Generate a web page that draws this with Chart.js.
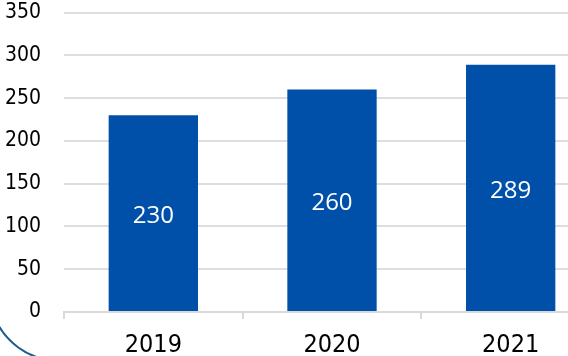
<!DOCTYPE html>
<html>
<head>
<meta charset="utf-8">
<script src="https://cdn.jsdelivr.net/npm/chart.js@4/dist/chart.umd.min.js"></script>
<style>
  html, body { margin: 0; padding: 0; background: #fff; overflow: hidden; width: 568px; height: 356px; }
  #wrap { position: absolute; left: 0; top: 0; width: 600px; height: 356px; }
</style>
</head>
<body>
<div id="wrap"><canvas id="c"></canvas></div>
<script>
const categories = ['2019', '2020', '2021'];
const values = [230, 260, 289];
const yTicks = [0, 50, 100, 150, 200, 250, 300, 350];

const axisFont = "'DejaVu Sans Condensed', 'DejaVu Sans', sans-serif";

const valueLabels = {
  id: 'valueLabels',
  afterDatasetsDraw(chart) {
    const ctx = chart.ctx;
    const meta = chart.getDatasetMeta(0);
    ctx.save();
    ctx.fillStyle = '#ffffff';
    ctx.font = "24px 'Open Sans', 'Noto Sans', sans-serif";
    ctx.textAlign = 'center';
    ctx.textBaseline = 'middle';
    meta.data.forEach((bar, i) => {
      const p = bar.getProps(['x', 'y', 'base'], true);
      ctx.fillText(String(values[i]), p.x, (p.y + p.base) / 2 + 3);
    });
    ctx.restore();
  }
};

const decoArc = {
  id: 'decoArc',
  beforeDraw(chart) {
    const ctx = chart.ctx;
    ctx.save();
    ctx.strokeStyle = '#1b5c92';
    ctx.lineWidth = 2;
    ctx.beginPath();
    ctx.arc(60, 290, 71, 100 * Math.PI / 180, 152 * Math.PI / 180);
    ctx.stroke();
    ctx.restore();
  }
};

new Chart(document.getElementById('c'), {
  type: 'bar',
  data: {
    labels: categories,
    datasets: [{
      data: values,
      backgroundColor: '#0050AA',
      borderWidth: 0,
      barPercentage: 0.5,
      categoryPercentage: 1.0
    }]
  },
  options: {
    responsive: true,
    maintainAspectRatio: false,
    animation: false,
    layout: { padding: { top: 0, right: 0, left: 0, bottom: 0 } },
    plugins: { legend: { display: false }, tooltip: { enabled: false } },
    scales: {
      x: {
        grid: {
          drawOnChartArea: false,
          drawTicks: true,
          tickLength: 7,
          color: '#d9d9d9',
          lineWidth: 2
        },
        border: { display: true, color: '#d9d9d9', width: 2 },
        ticks: {
          color: '#000',
          font: { family: axisFont, size: 25 },
          padding: 11
        },
        afterFit(scale) { scale.height = 44; }
      },
      y: {
        min: 0,
        max: 350,
        afterBuildTicks(scale) { scale.ticks = yTicks.map(v => ({ value: v })); },
        grid: {
          color: '#dedede',
          lineWidth: 2,
          drawTicks: true,
          tickLength: 23,
          tickColor: 'rgba(0,0,0,0)'
        },
        border: { display: false },
        ticks: {
          color: '#000',
          font: { family: axisFont, size: 21 },
          padding: 0
        },
        afterFit(scale) { scale.width = 64; }
      }
    }
  },
  plugins: [decoArc, valueLabels]
});
</script>
</body>
</html>
